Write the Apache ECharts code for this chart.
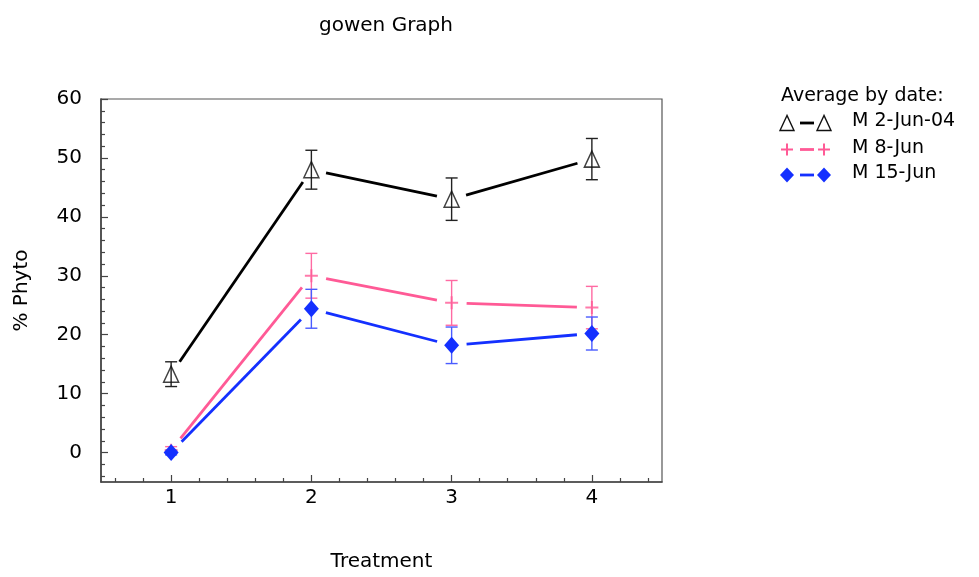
<!DOCTYPE html>
<html>
<head>
<meta charset="utf-8">
<script src="https://cdn.jsdelivr.net/npm/echarts@6/dist/echarts.min.js"></script>
<style>html,body{margin:0;padding:0;background:#fff}#c{width:979px;height:577px}</style>
</head>
<body>
<div id="c"></div>
<script>
// ---- data ----
const treatments = [1, 2, 3, 4];
const seriesNames = ['M 2-Jun-04', 'M 8-Jun', 'M 15-Jun'];
const blackMean = [13.3, 48.0, 43.0, 49.8];
const blackErr  = [2.1, 3.3, 3.6, 3.5];
const pinkMean  = [0.4, 30.0, 25.4, 24.6];
const pinkErr   = [0.6, 3.8, 3.8, 3.6];
const blueMean  = [0.0, 24.4, 18.2, 20.2];
const blueErr   = [0.4, 3.3, 3.1, 2.8];
const yTickLabels = [0, 10, 20, 30, 40, 50, 60];
const yMinorTicks = [-4, -2, 2, 4, 6, 8, 12, 14, 16, 18, 22, 24, 26, 28, 32, 34, 36, 38, 42, 44, 46, 48, 52, 54, 56, 58];
const xTickLabels = [1, 2, 3, 4];
const xMinorTicks = [0.6, 0.8, 1.2, 1.4, 1.6, 1.8, 2.2, 2.4, 2.6, 2.8, 3.2, 3.4, 3.6, 3.8, 4.2, 4.4];
const legendTitle = 'Average by date:';

// ---- styles ----
const FONT = 'DejaVu Sans';
const TXT = '#000';
const AX = '#444';
const lineColors = ['#000000', '#ff5a96', '#1430ff'];
const errColors = ['#222222', '#ff6aa3', '#4a5cff'];
const means = [blackMean, pinkMean, blueMean];
const errs = [blackErr, pinkErr, blueErr];
const GAP = 15;

const plusPath = 'path://M0,5L10,5M5,0L5,10';

function segData(mean) {
  const d = [];
  for (let i = 0; i < treatments.length - 1; i++) d.push([treatments[i], mean[i], treatments[i + 1], mean[i + 1]]);
  return d;
}
function errData(mean, err) {
  return treatments.map((t, i) => [t, mean[i] - err[i], mean[i] + err[i]]);
}

const series = [];
means.forEach((mean, k) => {
  series.push({
    type: 'custom', name: seriesNames[k] + '-line', xAxisIndex: 0, yAxisIndex: 0, z: 2,
    data: segData(mean), silent: true,
    renderItem: function (params, api) {
      const p1 = api.coord([api.value(0), api.value(1)]);
      const p2 = api.coord([api.value(2), api.value(3)]);
      const dx = p2[0] - p1[0], dy = p2[1] - p1[1];
      const len = Math.sqrt(dx * dx + dy * dy);
      const ux = dx / len, uy = dy / len;
      return {
        type: 'line',
        shape: { x1: p1[0] + ux * GAP, y1: p1[1] + uy * GAP, x2: p2[0] - ux * GAP, y2: p2[1] - uy * GAP },
        style: { stroke: lineColors[k], lineWidth: 2.8 }
      };
    }
  });
  series.push({
    type: 'custom', name: seriesNames[k] + '-err', xAxisIndex: 0, yAxisIndex: 0, z: 3,
    data: errData(mean, errs[k]), silent: true,
    renderItem: function (params, api) {
      const top = api.coord([api.value(0), api.value(2)]);
      const bot = api.coord([api.value(0), api.value(1)]);
      const w = 6;
      const st = { stroke: errColors[k], lineWidth: 1.4 };
      return {
        type: 'group', children: [
          { type: 'line', shape: { x1: top[0], y1: top[1], x2: bot[0], y2: bot[1] }, style: st },
          { type: 'line', shape: { x1: top[0] - w, y1: top[1], x2: top[0] + w, y2: top[1] }, style: st },
          { type: 'line', shape: { x1: bot[0] - w, y1: bot[1], x2: bot[0] + w, y2: bot[1] }, style: st }
        ]
      };
    }
  });
});
// markers
series.push({
  type: 'scatter', name: seriesNames[0], xAxisIndex: 0, yAxisIndex: 0, z: 5,
  data: treatments.map((t, i) => [t, blackMean[i]]),
  symbol: 'triangle', symbolSize: [15, 16],
  itemStyle: { color: 'rgba(0,0,0,0)', borderColor: '#111', borderWidth: 1.5 }
});
series.push({
  type: 'scatter', name: seriesNames[1], xAxisIndex: 0, yAxisIndex: 0, z: 5,
  data: treatments.map((t, i) => [t, pinkMean[i]]),
  symbol: plusPath, symbolSize: 13,
  itemStyle: { color: 'none', borderColor: lineColors[1], borderWidth: 2 }
});
series.push({
  type: 'scatter', name: seriesNames[2], xAxisIndex: 0, yAxisIndex: 0, z: 6,
  data: treatments.map((t, i) => [t, blueMean[i]]),
  symbol: 'diamond', symbolSize: [15, 17],
  itemStyle: { color: lineColors[2], opacity: 1 }
});

// legend via graphic
const legendX = 781, legendY0 = 98, rowH = 25.5;
const LFONT = '19px "' + FONT + '"';
const graphics = [{
  type: 'text', left: legendX, top: legendY0 - 11,
  style: { text: legendTitle, font: LFONT, fill: TXT }
}];
const m1x = 787, m2x = 824;
seriesNames.forEach((nm, k) => {
  const cy = legendY0 + 25 + k * rowH + (k === 0 ? 0 : 1);
  graphics.push({ type: 'line', shape: { x1: 800, y1: cy, x2: 814, y2: cy }, style: { stroke: lineColors[k], lineWidth: 2.8 } });
  [m1x, m2x].forEach(mx => {
    if (k === 0) graphics.push({ type: 'polygon', shape: { points: [[mx, cy - 7.5], [mx - 7, cy + 7.5], [mx + 7, cy + 7.5]] }, style: { fill: 'none', stroke: '#111', lineWidth: 1.4 } });
    if (k === 1) {
      graphics.push({ type: 'line', shape: { x1: mx - 6, y1: cy, x2: mx + 6, y2: cy }, style: { stroke: lineColors[1], lineWidth: 2 } });
      graphics.push({ type: 'line', shape: { x1: mx, y1: cy - 6, x2: mx, y2: cy + 6 }, style: { stroke: lineColors[1], lineWidth: 2 } });
    }
    if (k === 2) graphics.push({ type: 'polygon', shape: { points: [[mx, cy - 7.5], [mx + 7, cy], [mx, cy + 7.5], [mx - 7, cy]] }, style: { fill: lineColors[2] } });
  });
  graphics.push({ type: 'text', left: 852, top: cy - 11, style: { text: nm, font: LFONT, fill: TXT } });
});

const chart = echarts.init(document.getElementById('c'), null, { renderer: 'canvas' });
chart.setOption({
  animation: false,
  textStyle: { fontFamily: FONT },
  title: {
    text: 'gowen Graph', left: 381, top: 11, textAlign: 'center',
    textStyle: { fontFamily: FONT, fontSize: 20, fontWeight: 'normal', color: TXT }
  },
  grid: { left: 101, right: 317, top: 99, bottom: 94, show: true, borderColor: '#555', borderWidth: 1.2, backgroundColor: 'transparent' },
  xAxis: [{
    type: 'value', min: 0.5, max: 4.5, position: 'bottom',
    name: 'Treatment', nameLocation: 'middle', nameGap: 70,
    nameTextStyle: { fontFamily: FONT, fontSize: 20, color: TXT },
    axisLine: { show: true, onZero: false, lineStyle: { color: AX, width: 1.6 } },
    axisTick: { show: true, inside: true, length: 7, customValues: xTickLabels, lineStyle: { color: AX, width: 1.2 } },
    axisLabel: { show: true, customValues: xTickLabels, margin: 6, fontSize: 20, color: TXT, fontFamily: FONT },
    splitLine: { show: false }
  }, {
    type: 'value', min: 0.5, max: 4.5, position: 'bottom', offset: 0,
    axisLine: { show: false, onZero: false },
    axisTick: { show: true, inside: true, length: 4, customValues: xMinorTicks, lineStyle: { color: AX, width: 1.2 } },
    axisLabel: { show: false },
    splitLine: { show: false }
  }],
  yAxis: [{
    type: 'value', min: -5, max: 60, position: 'left',
    name: '% Phyto', nameLocation: 'middle', nameGap: 69, nameRotate: 90,
    nameTextStyle: { fontFamily: FONT, fontSize: 20, color: TXT },
    axisLine: { show: true, onZero: false, lineStyle: { color: AX, width: 1.6 } },
    axisTick: { show: true, inside: true, length: 7, customValues: yTickLabels, lineStyle: { color: AX, width: 1.2 } },
    axisLabel: { show: true, customValues: yTickLabels, margin: 19, fontSize: 20, color: TXT, fontFamily: FONT },
    splitLine: { show: false }
  }, {
    type: 'value', min: -5, max: 60, position: 'left', offset: 0,
    axisLine: { show: false, onZero: false },
    axisTick: { show: true, inside: true, length: 4, customValues: yMinorTicks, lineStyle: { color: AX, width: 1.2 } },
    axisLabel: { show: false },
    splitLine: { show: false }
  }],
  graphic: graphics,
  series: series
});
</script>
</body>
</html>
